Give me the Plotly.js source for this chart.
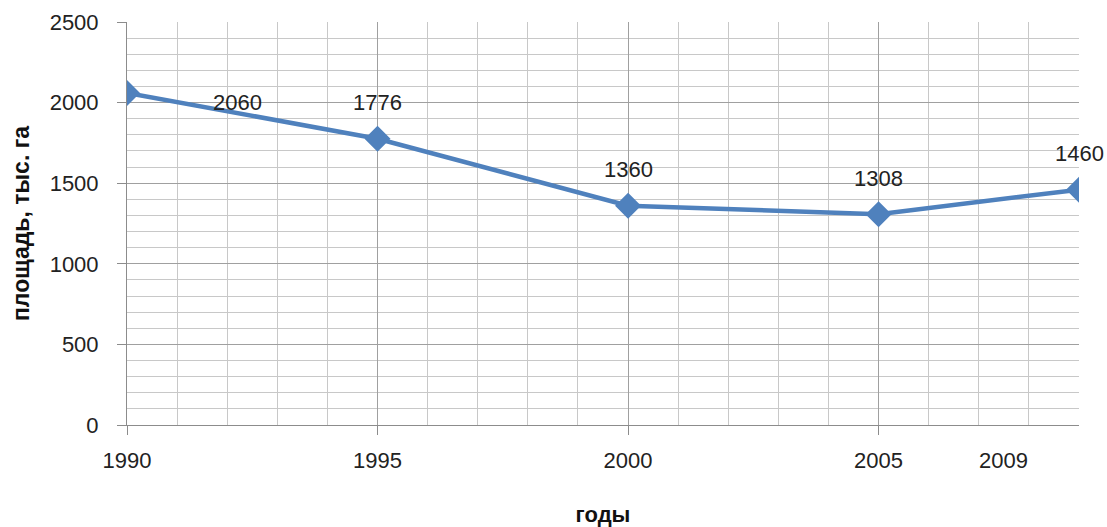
<!DOCTYPE html>
<html>
<head>
<meta charset="utf-8">
<script src="https://cdn.plot.ly/plotly-3.0.1.min.js"></script>
<style>html,body{margin:0;padding:0;background:#fff;}#chart{width:1107px;height:527px;}</style>
</head>
<body>
<div id="chart"></div>
<script>
// Data
const years = [1990, 1995, 2000, 2005, 2009];
const area = [2060, 1776, 1360, 1308, 1460];
const labelTexts = ["2060", "1776", "1360", "1308", "1460"];
const xTickVals = [1990, 1995, 2000, 2005];
const xTickText = ["1990", "1995", "2000", "2005"];
const extraTickVals = [2007.5];
const extraTickText = ["2009"];

// Styles
const labelShift = [[110, -10], [0, 36], [0, 36], [0, 36], [0, 36]];
const FONT = "Liberation Sans, Arial, sans-serif";
const blue = "#4F81BD";

const annotations = years.map((x, i) => ({
  x: x, y: area[i], xref: "x", yref: "y",
  text: labelTexts[i], showarrow: false,
  xanchor: "center", yanchor: "middle",
  xshift: labelShift[i][0], yshift: labelShift[i][1],
  font: {family: FONT, size: 22, color: "#222"}
})).concat(extraTickVals.map((x, i) => ({
  x: x, y: 0, xref: "x", yref: "paper",
  text: extraTickText[i], showarrow: false,
  xanchor: "center", yanchor: "middle", yshift: -35,
  font: {family: FONT, size: 22, color: "#222"}
})));

const trace = {
  x: years, y: area, type: "scatter", mode: "lines+markers",
  line: {color: blue, width: 4.5},
  marker: {symbol: "diamond", size: 20, color: blue},
  hoverinfo: "skip"
};

const layout = {
  width: 1107, height: 527,
  margin: {l: 127, r: 28, t: 22, b: 102},
  paper_bgcolor: "#fff", plot_bgcolor: "#fff",
  showlegend: false,
  font: {family: FONT, size: 22, color: "#222"},
  xaxis: {
    range: [1990, 2009], tickvals: xTickVals, ticktext: xTickText,
    ticks: "outside", ticklen: 9, tickcolor: "#8c8c8c", tickwidth: 1,
    showgrid: true, gridcolor: "#a0a0a0", gridwidth: 1,
    minor: {dtick: 1, tick0: 1990, showgrid: true, gridcolor: "#c8c8c8", gridwidth: 1, ticks: ""},
    showline: true, linecolor: "#8c8c8c", linewidth: 1,
    zeroline: false, ticklabelstandoff: 7,
    tickfont: {family: FONT, size: 22, color: "#222"},
    title: {text: "годы", font: {family: FONT, size: 22, color: "#111", weight: "bold"}, standoff: 37}
  },
  yaxis: {
    range: [0, 2500], dtick: 500, tick0: 0,
    ticks: "outside", ticklen: 9, tickcolor: "#8c8c8c", tickwidth: 1,
    showgrid: true, gridcolor: "#a0a0a0", gridwidth: 1,
    minor: {dtick: 100, showgrid: true, gridcolor: "#c8c8c8", gridwidth: 1, ticks: ""},
    showline: true, linecolor: "#8c8c8c", linewidth: 1,
    zeroline: false, ticklabelstandoff: 14,
    tickfont: {family: FONT, size: 22, color: "#222"},
    title: {text: "площадь, тыс. га", font: {family: FONT, size: 23, color: "#111", weight: "bold"}, standoff: 13}
  },
  annotations: annotations
};

Plotly.newPlot("chart", [trace], layout, {displayModeBar: false, staticPlot: true});
</script>
</body>
</html>
